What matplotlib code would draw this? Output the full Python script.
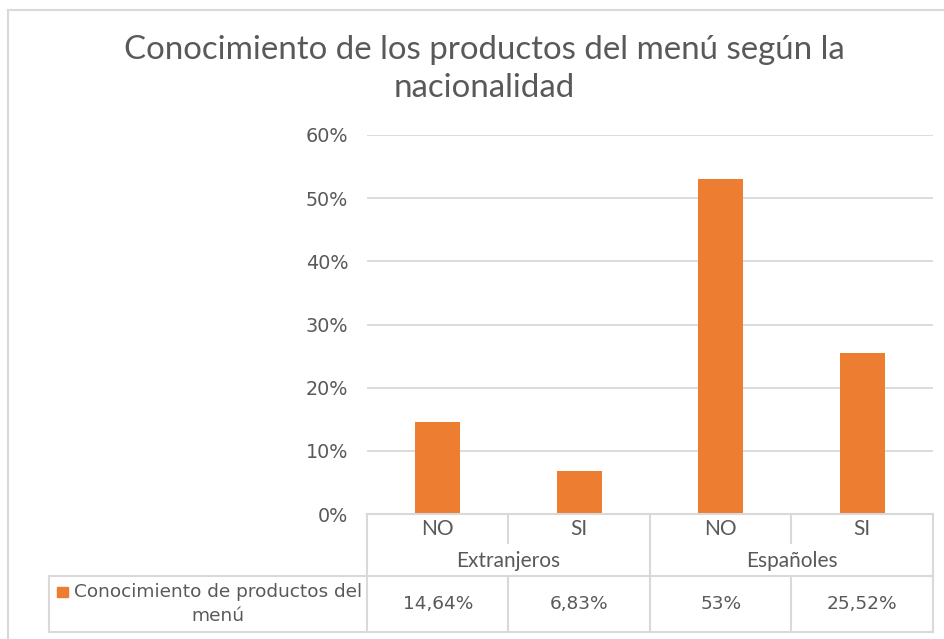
import matplotlib
matplotlib.use("Agg")
import matplotlib.pyplot as plt
from matplotlib.patches import Rectangle
from matplotlib.lines import Line2D

# ---- data ----
groups = ["Extranjeros", "Españoles"]
subcats = ["NO", "SI", "NO", "SI"]
values = [0.1464, 0.0683, 0.53, 0.2552]
value_labels = ["14,64%", "6,83%", "53%", "25,52%"]
series_name = "Conocimiento de productos del\nmenú"
title = "Conocimiento de los productos del menú según la\nnacionalidad"
yticks = [0, 0.1, 0.2, 0.3, 0.4, 0.5, 0.6]
ytick_labels = ["0%", "10%", "20%", "30%", "40%", "50%", "60%"]

W, H = 945, 639
BAR = "#ED7D31"
GRID = "#D9D9D9"
TXT = "#595959"
FONT_C = "Lato"          # condensed-looking text (title, category labels)
FONT_W = "DejaVu Sans"   # wide-looking text (ticks, values, legend)

fig = plt.figure(figsize=(W / 100, H / 100), dpi=100)
fig.patch.set_facecolor("white")

def fx(px):
    return px / W

def fy(py):
    return 1 - py / H

left_px, right_px, top_px, bot_px = 367, 933, 135, 514
ax = fig.add_axes([fx(left_px), fy(bot_px), fx(right_px - left_px), (bot_px - top_px) / H])
x = list(range(len(values)))
ax.bar(x, values, width=0.315, color=BAR, zorder=3)
ax.set_xlim(-0.5, len(values) - 0.5)
ax.set_ylim(0, 0.6)
ax.set_yticks(yticks)
ax.set_yticklabels(ytick_labels, fontsize=13.8, color=TXT, family=FONT_W)
ax.tick_params(axis="y", length=0, pad=13.5)
ax.set_xticks([])
for s in ax.spines.values():
    s.set_visible(False)
ax.yaxis.grid(True, color=GRID, linewidth=1.3, zorder=0)
ax.set_axisbelow(True)

# outer chart border
fig.add_artist(Line2D([fx(8), fx(8)], [fy(10), 0], color=GRID, lw=1.5, transform=fig.transFigure))
fig.add_artist(Line2D([fx(8), 1], [fy(10), fy(10)], color=GRID, lw=1.5, transform=fig.transFigure))

# title
fig.text(fx(484), fy(69), title, ha="center", va="center", fontsize=23.8,
         color=TXT, family=FONT_C, linespacing=1.32)

# ---- data table ----
cell_w = (right_px - left_px) / len(values)
bounds = [left_px + i * cell_w for i in range(len(values) + 1)]
row1_bot, row2_bot, row3_bot = 545, 576, 632
leg_left = 49

def hline(y, x0, x1):
    fig.add_artist(Line2D([fx(x0), fx(x1)], [fy(y), fy(y)], color=GRID, lw=1.5, transform=fig.transFigure))

def vline(xp, y0, y1):
    fig.add_artist(Line2D([fx(xp), fx(xp)], [fy(y0), fy(y1)], color=GRID, lw=1.5, transform=fig.transFigure))

hline(bot_px, left_px, right_px)
hline(row2_bot, leg_left, right_px)
hline(row3_bot, leg_left, right_px)
vline(leg_left, row2_bot, row3_bot)
for i, b in enumerate(bounds):
    if i % 2 == 0:
        vline(b, bot_px, row3_bot)
    else:
        vline(b, bot_px, row1_bot - 2)
        vline(b, row2_bot, row3_bot)

for i, lab in enumerate(subcats):
    cx = (bounds[i] + bounds[i + 1]) / 2
    fig.text(fx(cx), fy(529), lab, ha="center", va="center", fontsize=15, color=TXT, family=FONT_C)
    fig.text(fx(cx), fy(604), value_labels[i], ha="center", va="center", fontsize=13.3, color=TXT, family=FONT_W)
for g, name in enumerate(groups):
    cx = (bounds[2 * g] + bounds[2 * g + 2]) / 2
    fig.text(fx(cx), fy(561), name, ha="center", va="center", fontsize=15, color=TXT, family=FONT_C)

# legend key + series name
fig.add_artist(Rectangle((fx(57), fy(597)), fx(11), 10 / H, color=BAR, transform=fig.transFigure))
fig.text(fx(218), fy(604), series_name, ha="center", va="center", fontsize=13.3,
         color=TXT, family=FONT_W, linespacing=1.4)

fig.savefig("out.png", dpi=100, facecolor="white")
